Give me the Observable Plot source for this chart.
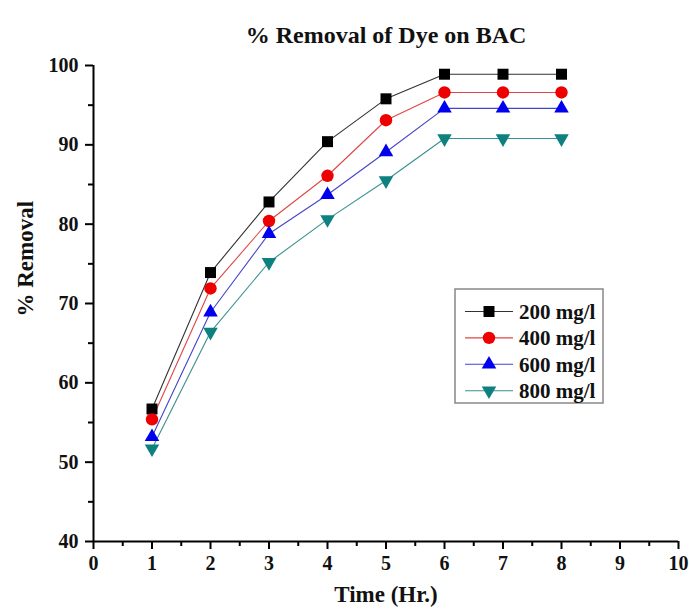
<!DOCTYPE html>
<html><head><meta charset="utf-8">
<script src="https://cdn.jsdelivr.net/npm/d3@7"></script>
<script src="https://cdn.jsdelivr.net/npm/@observablehq/plot@0.6"></script>
<style>
body{margin:0;background:#fff}
svg{font-family:"Liberation Serif","Times New Roman",serif}
</style>
</head><body><div id="chart"></div>
<script>
const titleText = "% Removal of Dye on BAC";
const xLabel = "Time (Hr.)";
const yLabel = "% Removal";
const times = [1, 2, 3, 4, 5, 6, 7, 8];
const seriesNames = ["200 mg/l", "400 mg/l", "600 mg/l", "800 mg/l"];
const removal200 = [56.7, 73.9, 82.8, 90.4, 95.8, 98.9, 98.9, 98.9];
const removal400 = [55.4, 71.9, 80.4, 86.1, 93.1, 96.6, 96.6, 96.6];
const removal600 = [53.2, 68.9, 78.8, 83.7, 89.1, 94.6, 94.6, 94.6];
const removal800 = [51.7, 66.4, 75.2, 80.6, 85.5, 90.8, 90.8, 90.8];
const xTicks = [0, 1, 2, 3, 4, 5, 6, 7, 8, 9, 10];
const yTicks = [40, 50, 60, 70, 80, 90, 100];

const seriesValues = [removal200, removal400, removal600, removal800];
const markerColors = ["#000000", "#ee0000", "#0000ee", "#0e8080"];
const lineColors = ["#333333", "#e04545", "#4444c8", "#3a9090"];

const triangleDown = {
  draw(ctx, size) {
    const y = Math.sqrt(size / (Math.sqrt(3) * 3));
    const x = Math.sqrt(3) * y;
    ctx.moveTo(0, 2 * y);
    ctx.lineTo(-x, -y);
    ctx.lineTo(x, -y);
    ctx.closePath();
  }
};
const symbols = [d3.symbolSquare, d3.symbolCircle, d3.symbolTriangle, triangleDown];
const radii = [6.2, 6.2, 5.4, 5.4];

const rows = seriesNames.map((name, i) => times.map((t, j) => ({series: name, time: t, value: seriesValues[i][j]})));

const font = "Liberation Serif";
const marks = [
  Plot.axisY({ticks: yTicks, tickSize: 8, tickPadding: 7, strokeWidth: 2, fontSize: 20, fontWeight: "bold", fontFamily: font, label: null, fill: "#111"}),
  Plot.axisY({ticks: d3.range(45, 100, 10), tickSize: 5, strokeWidth: 2, text: null, label: null}),
  Plot.axisX({ticks: xTicks, tickSize: 8, tickPadding: 6, strokeWidth: 2, fontSize: 20, fontWeight: "bold", fontFamily: font, label: null, fill: "#111"}),
  Plot.axisX({ticks: d3.range(0.5, 10, 1), tickSize: 5, strokeWidth: 2, text: null, label: null}),
  Plot.ruleX([0], {stroke: "#000", strokeWidth: 2}),
  Plot.ruleY([40], {stroke: "#000", strokeWidth: 2}),
];
rows.forEach((data, i) => {
  marks.push(Plot.line(data, {x: "time", y: "value", stroke: lineColors[i], strokeWidth: 1.1}));
});
rows.forEach((data, i) => {
  marks.push(Plot.dot(data, {x: "time", y: "value", symbol: symbols[i], r: radii[i], fill: markerColors[i], stroke: "none"}));
});
marks.push(
  Plot.text([titleText], {frameAnchor: "top", dy: -40, fontSize: 24, fontWeight: "bold", fontFamily: font, fill: "#111"}),
  Plot.text([xLabel], {frameAnchor: "bottom", dy: 60, fontSize: 23, fontWeight: "bold", fontFamily: font, fill: "#111"}),
  Plot.text([yLabel], {frameAnchor: "left", dx: -68, dy: 13, rotate: -90, fontSize: 23, fontWeight: "bold", fontFamily: font, fill: "#111"})
);

const chart = Plot.plot({
  width: 689,
  height: 613,
  marginLeft: 93,
  marginRight: 11,
  marginTop: 65,
  marginBottom: 72,
  x: {domain: [0, 10]},
  y: {domain: [40, 100]},
  style: {background: "#fff", fontFamily: font},
  marks
});

// legend
const svg = d3.select(chart);
const lg = svg.append("g");
lg.append("rect").attr("x", 455).attr("y", 289).attr("width", 148).attr("height", 114)
  .attr("fill", "#fff").attr("stroke", "#888").attr("stroke-width", 1.5);
seriesNames.forEach((name, i) => {
  const y = 311.5 + i * 26.4;
  lg.append("line").attr("x1", 465).attr("x2", 513).attr("y1", y).attr("y2", y)
    .attr("stroke", lineColors[i]).attr("stroke-width", 1.1);
  lg.append("path").attr("transform", `translate(489,${y})`)
    .attr("d", d3.symbol(symbols[i], Math.PI * radii[i] * radii[i])())
    .attr("fill", markerColors[i]);
  lg.append("text").attr("x", 519).attr("y", y).attr("dy", "0.35em")
    .attr("text-anchor", "start")
    .attr("font-size", 21).attr("font-weight", "bold").attr("font-family", font).attr("fill", "#111")
    .text(name);
});
document.getElementById("chart").append(chart);
</script>
</body></html>
